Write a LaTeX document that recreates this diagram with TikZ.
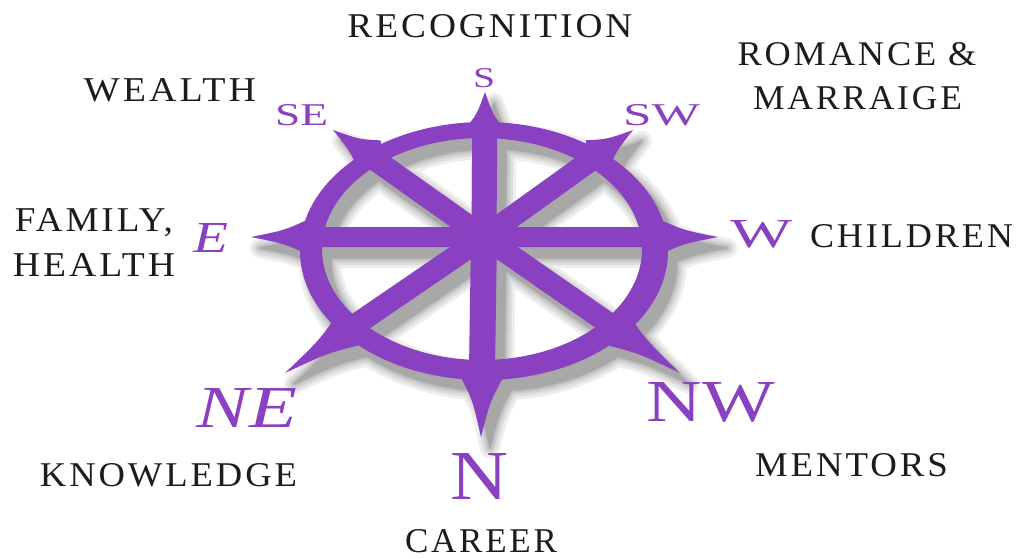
\documentclass[tikz,border=0pt]{standalone}
\usepackage{fontspec}
\usepackage{graphicx}
\setmainfont{Liberation Serif}
\newfontfamily\lblfont[LetterSpace=8]{Liberation Serif}
\usetikzlibrary{calc}
\definecolor{wheelpurple}{RGB}{137,64,193}
\definecolor{labelblack}{RGB}{28,28,28}
\tikzset{
  wheelpart/.style={fill=wheelpurple},
  area/.style={anchor=base, inner sep=0pt, text=labelblack, font=\lblfont\fontsize{30}{36}\selectfont},
  dirlabel/.style={anchor=base, inner sep=0pt, text=wheelpurple, font=\fontsize{30}{36}\selectfont},
}
\newcommand\fitbox[3]{\resizebox{#1pt}{#2pt}{#3}}
% one spoke with its spike: tip, fraction at ring, half spoke width, half spike base
\newcommand\wheelarm[4]{%
  \coordinate (aH) at (484,237);
  \coordinate (aT) at (#1);
  \coordinate (aB) at ($(aH)!#2-0.03!(aT)$);
  \coordinate (aK) at ($(aH)!#2-0.075!(aT)$);
  \coordinate (aC) at ($(aB)!0.4!(aT)$);
  \path[wheelpart] ($(aH)!#3!90:(aT)$) -- ($(aK)!#3!90:(aT)$) -- ($(aB)!#4!90:(aT)$)
     .. controls ($(aC)!0.4*#4!90:(aT)$) .. (aT)
     .. controls ($(aC)!0.4*#4!-90:(aT)$) .. ($(aB)!#4!-90:(aT)$)
     -- ($(aK)!#3!-90:(aT)$) -- ($(aH)!#3!-90:(aT)$) -- cycle;
}
\newcommand\wheelshape{%
  \path[wheelpart, even odd rule] (484,251) ellipse [x radius=184, y radius=129]
        (482,249) ellipse [x radius=160, y radius=111];
  \wheelarm{485,92}{0.772}{12.5pt}{20pt}
  \wheelarm{481,437}{0.725}{13pt}{22pt}
  \wheelarm{251,237}{0.79}{10pt}{17pt}
  \wheelarm{718,237}{0.786}{10pt}{17pt}
  \wheelarm{333,130}{0.788}{11pt}{19pt}
  \wheelarm{633,130}{0.79}{11pt}{19pt}
  \wheelarm{285,373}{0.71}{11pt}{19pt}
  \wheelarm{680,373}{0.71}{11pt}{19pt}
}
\begin{document}
\begin{tikzpicture}[x=1pt,y=-1pt]
\fill[white] (0,0) rectangle (1018,558);
\useasboundingbox (0,0) rectangle (1018,558);
% soft shadow
\foreach \lw in {20,14,9,5,2,0.5} {
  \begin{scope}[shift={(9,11)}, transparency group, opacity=0.065,
      wheelpart/.style={fill=black, draw=black, line width=\lw pt, line join=round}]
    \wheelshape
  \end{scope}
}
% wheel
\wheelshape
% direction letters
\node[dirlabel] (dS)  at (484,87)  {\fitbox{22}{19}{S}};
\node[dirlabel] (dSE) at (301.5,125) {\fitbox{53}{21}{SE}};
\node[dirlabel] (dSW) at (661.5,125) {\fitbox{77}{21}{SW}};
\node[dirlabel] (dE)  at (210.5,252) {\fitbox{35}{29}{\itshape E}};
\node[dirlabel] (dW)  at (761,247) {\fitbox{62}{27}{W}};
\node[dirlabel] (dNE) at (247,427) {\fitbox{100}{39}{\itshape NE}};
\node[dirlabel] (dNW) at (711,421) {\fitbox{128}{39}{NW}};
\node[dirlabel] (dN)  at (479,499) {\fitbox{58}{46}{N}};
% life areas
\node[area] (recog)  at (490,37)  {\fitbox{285}{23}{RECOGNITION}};
\node[area] (wealth) at (170,101) {\fitbox{172}{23}{WEALTH}};
\node[area] (rom1)   at (857,65)  {\fitbox{239}{23}{ROMANCE \&}};
\node[area] (rom2)   at (857.5,109) {\fitbox{209}{23}{MARRAIGE}};
\node[area] (child)  at (911.5,247) {\fitbox{203}{23}{CHILDREN}};
\node[area] (fam1)   at (94,231)  {\fitbox{158}{23}{FAMILY,}};
\node[area] (fam2)   at (94,276)  {\fitbox{162}{23}{HEALTH}};
\node[area] (know)   at (168.5,486) {\fitbox{257}{23}{KNOWLEDGE}};
\node[area] (ment)   at (851.5,476) {\fitbox{193}{23}{MENTORS}};
\node[area] (career) at (481,552) {\fitbox{152}{23}{CAREER}};
\end{tikzpicture}
\end{document}
